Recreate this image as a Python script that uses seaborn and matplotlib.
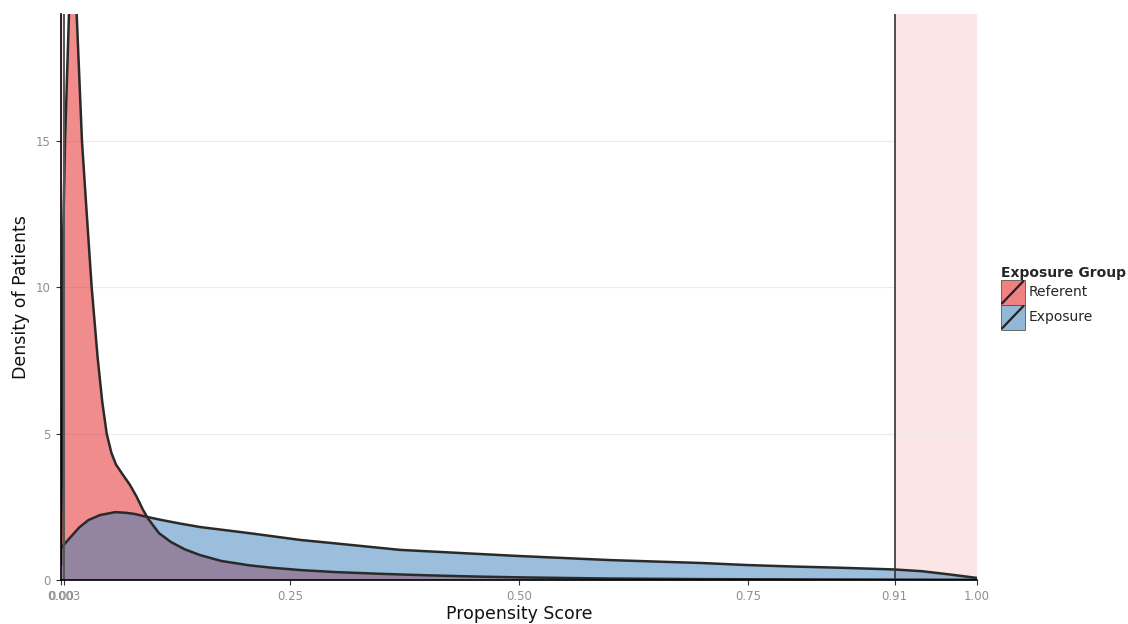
import numpy as np
import pandas as pd
import matplotlib
matplotlib.use("Agg")
import matplotlib.pyplot as plt
from matplotlib.patches import Rectangle
from matplotlib.lines import Line2D
from matplotlib.legend_handler import HandlerBase
import seaborn as sns

# Estimated density curves of the propensity score by exposure group
referent_x = [0.0, 0.0015, 0.0025, 0.0044, 0.0087, 0.011, 0.013, 0.015, 0.0171,
              0.0229, 0.0273, 0.0335, 0.040, 0.045, 0.0499, 0.055, 0.060, 0.0675,
              0.0753, 0.0825, 0.0895, 0.095, 0.107, 0.12, 0.135, 0.152, 0.175,
              0.206, 0.23, 0.261, 0.30, 0.35, 0.40, 0.45, 0.50, 0.60, 0.70, 0.80,
              0.91, 1.0]
referent_y = [0.5, 6.0, 12.0, 15.0, 19.35, 22.0, 23.0, 22.0, 19.35,
              15.0, 12.9, 10.0, 7.6, 6.1, 5.0, 4.35, 3.95, 3.6,
              3.25, 2.85, 2.4, 2.1, 1.6, 1.3, 1.05, 0.85, 0.65,
              0.5, 0.42, 0.34, 0.27, 0.21, 0.16, 0.12, 0.09, 0.05, 0.03, 0.02,
              0.012, 0.006]

exposure_x = [0.0, 0.01, 0.02, 0.03, 0.0426, 0.059, 0.07, 0.08, 0.095, 0.11,
              0.13, 0.152, 0.206, 0.261, 0.30, 0.37, 0.45, 0.50, 0.60, 0.70,
              0.75, 0.80, 0.85, 0.91, 0.94, 0.97, 1.0]
exposure_y = [1.09, 1.45, 1.8, 2.05, 2.22, 2.32, 2.3, 2.26, 2.15, 2.05,
              1.93, 1.81, 1.6, 1.37, 1.25, 1.03, 0.9, 0.82, 0.68, 0.58,
              0.51, 0.46, 0.42, 0.36, 0.30, 0.19, 0.07]

groups = ["Referent", "Exposure"]
group_colors = {"Referent": "#E41A1C", "Exposure": "#377EB8"}

# Trimming thresholds for common support
lower_cut = 0.003
upper_cut = 0.91
x_ticks = [0.0, lower_cut, 0.25, 0.50, 0.75, upper_cut, 1.00]
x_tick_labels = ["0.00", "0.003", "0.25", "0.50", "0.75", "0.91", "1.00"]
y_ticks = [0, 5, 10, 15]

df = pd.concat([
    pd.DataFrame({"score": referent_x, "density": referent_y, "group": "Referent"}),
    pd.DataFrame({"score": exposure_x, "density": exposure_y, "group": "Exposure"}),
])

sns.set_theme(style="white")
plt.rcParams["font.family"] = ["DejaVu Sans"]

fig = plt.figure(figsize=(11.28, 6.24), dpi=100)
ax = fig.add_axes([61 / 1128, 1 - 580 / 624, (977 - 61) / 1128, (580 - 14) / 624])

# trimmed regions
ax.axvspan(upper_cut, 1.0, color="#F8D0D0", alpha=0.55, lw=0, zorder=0)
ax.axvspan(0.0, lower_cut, color="#F8D0D0", alpha=0.55, lw=0, zorder=0)

for g in groups:
    sub = df[df["group"] == g]
    ax.fill_between(sub["score"], 0, sub["density"], color=group_colors[g],
                    alpha=0.5, lw=0, zorder=2)

sns.lineplot(data=df, x="score", y="density", hue="group", hue_order=groups,
             palette={"Referent": "#2a2a2a", "Exposure": "#2a2a2a"},
             lw=1.8, legend=False, ax=ax, zorder=3, sort=False)

ax.axvline(lower_cut, color="#555555", lw=1.4, zorder=4)
ax.axvline(upper_cut, color="#333333", lw=1.2, zorder=4)

ax.set_xlim(0, 1.0)
ax.set_ylim(0, 19.35)
ax.set_xticks(x_ticks)
ax.set_xticklabels(x_tick_labels)
ax.set_yticks(y_ticks)
ax.tick_params(axis="both", which="both", length=3.5, width=0.8, color="#333333",
               labelcolor="#8f8f8f", labelsize=8.5, pad=4, bottom=True, left=True)

ax.yaxis.grid(True, color="#ebebeb", lw=0.8)
ax.set_axisbelow(True)
for side in ["top", "right"]:
    ax.spines[side].set_visible(False)
for side in ["left", "bottom"]:
    ax.spines[side].set_color("black")
    ax.spines[side].set_linewidth(1.2)
    ax.spines[side].set_zorder(5)

ax.set_xlabel("Propensity Score", fontsize=12.5, color="#111111", labelpad=1)
ax.set_ylabel("Density of Patients", fontsize=12.5, color="#111111", labelpad=4)


class DensityKey(HandlerBase):
    def create_artists(self, legend, orig_handle, xdescent, ydescent, width,
                       height, fontsize, trans):
        x0, y0 = -xdescent, -ydescent
        rect = Rectangle((x0, y0), width, height, facecolor=orig_handle.get_facecolor(),
                         edgecolor="#555555", lw=0.6, transform=trans)
        diag = Line2D([x0 + 1, x0 + width - 1], [y0 + 1, y0 + height - 1],
                      color="#222222", lw=1.6, transform=trans)
        return [rect, diag]


handles = [Rectangle((0, 0), 1, 1, facecolor=matplotlib.colors.to_rgba(group_colors[g], 0.55))
           for g in groups]
leg = fig.legend(handles, groups, handler_map={Rectangle: DensityKey()},
                 title="Exposure Group", loc="upper left",
                 bbox_to_anchor=(991 / 1128, 1 - 256 / 624), frameon=False,
                 fontsize=10, title_fontsize=10, handlelength=1.73, handleheight=2.39,
                 labelspacing=0.0, handletextpad=0.3, borderpad=0.2)
leg.get_title().set_fontweight("bold")
leg._legend_box.align = "left"

fig.savefig("out.png", dpi=100)
